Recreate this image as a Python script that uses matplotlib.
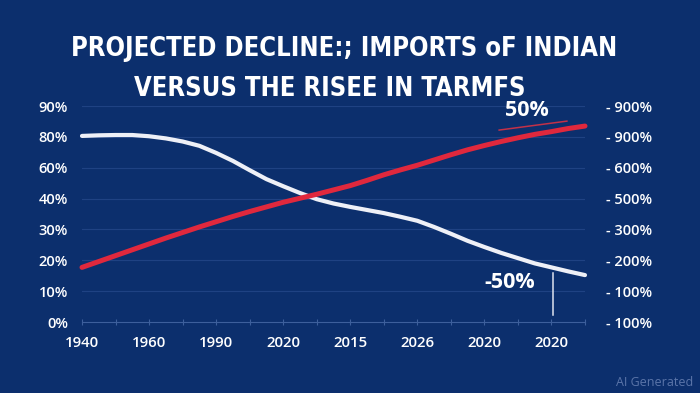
import matplotlib
matplotlib.use("Agg")
import matplotlib.pyplot as plt
from matplotlib import font_manager

# ---- data (positions in axis units; labels are categorical) ----
x_labels = ["1940", "1960", "1990", "2020", "2015", "2026", "2020", "2020"]
left_labels = ["0%", "10%", "20%", "30%", "40%", "60%", "80%", "90%"]
right_labels = ["- 100%", "- 100%", "- 200%", "- 300%", "- 500%", "- 600%", "- 900%", "- 900%"]

x_pos = [0, 0.25, 0.5, 0.75, 1, 1.25, 1.5, 1.75, 2, 2.25, 2.5, 2.75, 3, 3.25,
         3.5, 3.75, 4, 4.25, 4.5, 4.75, 5, 5.25, 5.5, 5.75, 6, 6.25, 6.5,
         6.75, 7, 7.25, 7.5]
imports_line = [6.03, 6.05, 6.06, 6.06, 6.02, 5.95, 5.85, 5.71, 5.48, 5.22,
                4.92, 4.63, 4.40, 4.18, 3.98, 3.84, 3.73, 3.63, 3.53, 3.41,
                3.28, 3.08, 2.86, 2.63, 2.43, 2.24, 2.07, 1.90, 1.77, 1.64, 1.52]
tariffs_line = [1.77, 1.96, 2.15, 2.34, 2.53, 2.72, 2.90, 3.08, 3.25, 3.42,
                3.58, 3.73, 3.88, 4.01, 4.14, 4.28, 4.42, 4.59, 4.77, 4.93,
                5.08, 5.25, 5.42, 5.58, 5.72, 5.85, 5.97, 6.08, 6.17, 6.27, 6.35]

title_1 = "PROJECTED DECLINE:; IMPORTS oF INDIAN"
title_2 = "VERSUS THE RISEE IN TARMFS"

BG = "#0c2f6d"
RED = "#e0283d"
WHITE = "#eef0f7"
GRID = "#1f4283"

fig = plt.figure(figsize=(7, 3.93), dpi=100, facecolor=BG)
ax = fig.add_axes([82/700, 71/393, 503/700, 216/393])
ax.set_facecolor(BG)

ax.set_xlim(0, 7.5)
ax.set_ylim(0, 7)

for lvl in range(1, 8):
    ax.axhline(lvl, color=GRID, lw=0.8, zorder=1)

ax.plot(x_pos, imports_line, color=WHITE, lw=3.0, solid_capstyle="round",
        solid_joinstyle="round", clip_on=False, zorder=3)
ax.plot(x_pos, tariffs_line, color=RED, lw=3.6, solid_capstyle="round",
        solid_joinstyle="round", clip_on=False, zorder=4)

for s in ["top", "right", "left"]:
    ax.spines[s].set_visible(False)
ax.spines["bottom"].set_color("#3d5f9c")
ax.spines["bottom"].set_linewidth(0.8)

tick_font = dict(family=["Open Sans", "DejaVu Sans"], weight="semibold")

ax.set_xticks([i * 0.5 for i in range(16)], minor=True)
ax.set_xticks(list(range(len(x_labels))))
ax.set_xticklabels(x_labels, color="white", fontsize=10.8, **tick_font)
ax.tick_params(axis="x", which="both", direction="inout", length=4,
               color="#3d5f9c", width=0.8, pad=8)

ax.set_yticks(list(range(len(left_labels))))
ax.set_yticklabels(left_labels, color="white", fontsize=10.5, **tick_font)
ax.tick_params(axis="y", length=0, pad=10)

ax2 = ax.twinx()
ax2.set_ylim(0, 7)
ax2.set_yticks(list(range(len(right_labels))))
ax2.set_yticklabels(right_labels, color="white", fontsize=10.5, **tick_font)
ax2.tick_params(axis="y", length=0, pad=15)
for s in ax2.spines.values():
    s.set_visible(False)

# annotations
ann_font = dict(family=["Open Sans", "DejaVu Sans"], weight="bold")
ax.text(6.63, 6.68, "50%", color="white", fontsize=15.5, ha="center",
        va="baseline", clip_on=False, **ann_font)
ax.plot([6.22, 7.23], [6.22, 6.51], color="#c33148", lw=1.1, clip_on=False, zorder=3)
ax.text(6.37, 1.10, "-50%", color="white", fontsize=15.5, ha="center",
        va="baseline", clip_on=False, **ann_font)
ax.plot([7.02, 7.02], [1.59, 0.23], color="#dfe3ee", lw=1.1, clip_on=False, zorder=3)

# title (prefer a condensed bold face; fit the width of the reference)
names = {f.name for f in font_manager.fontManager.ttflist}
if "Liberation Sans Narrow" in names:
    tfam = ["Liberation Sans Narrow", "DejaVu Sans"]
else:
    tfam = ["DejaVu Sans"]
title_font = dict(family=tfam, stretch="condensed", weight="bold", color="white")
t1 = fig.text(344/700, 1 - 56/393, title_1, ha="center", va="baseline",
              fontsize=24, **title_font)
t2 = fig.text(330/700, 1 - 96/393, title_2, ha="center", va="baseline",
              fontsize=24, **title_font)
fig.canvas.draw()
w1 = t1.get_window_extent().width
scale = 546.0 / w1
t1.set_fontsize(24 * scale)
t2.set_fontsize(24 * scale)

fig.text(693/700, 1 - 383/393, "AI Generated", color="#5b75a9", fontsize=9,
         ha="right", va="center", family=["Open Sans", "DejaVu Sans"])

fig.savefig("out.png", dpi=100, facecolor=BG)
